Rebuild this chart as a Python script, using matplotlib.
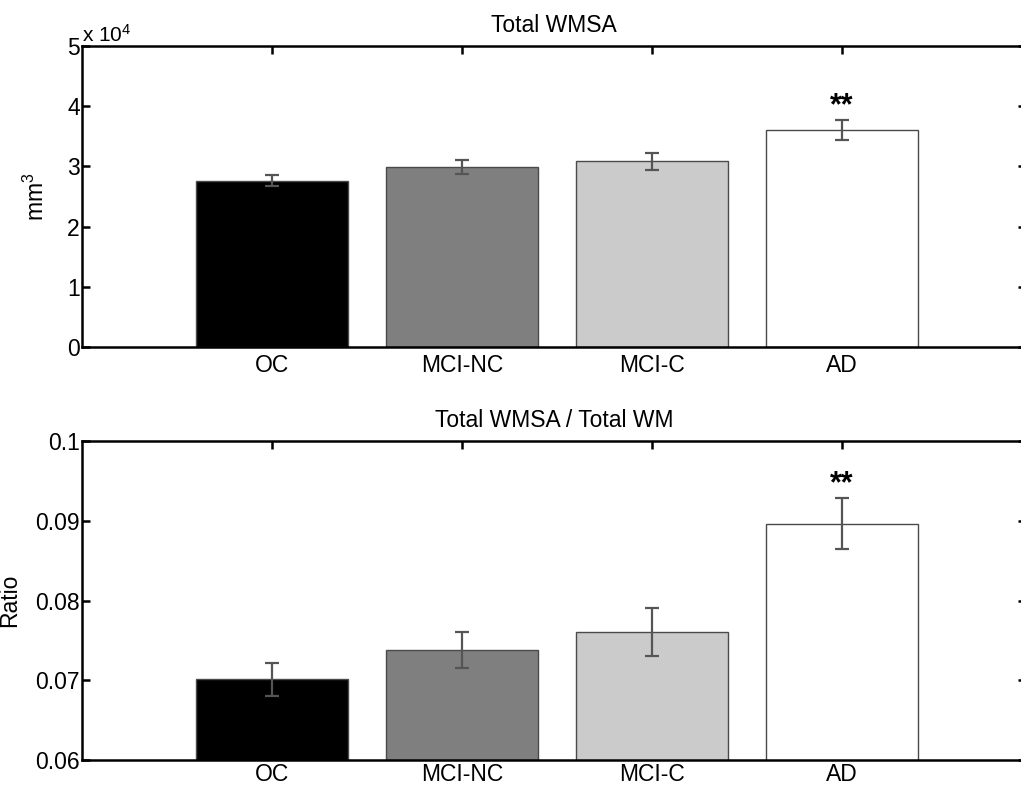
import matplotlib
matplotlib.use("Agg")
import matplotlib.pyplot as plt
from matplotlib.ticker import FuncFormatter, MultipleLocator

plt.rcParams['font.family'] = ['Liberation Sans', 'DejaVu Sans']
plt.rcParams['mathtext.fontset'] = 'custom'
plt.rcParams['mathtext.rm'] = 'Liberation Sans'
plt.rcParams['mathtext.it'] = 'Liberation Sans:italic'
plt.rcParams['mathtext.bf'] = 'Liberation Sans:bold'

# ---- data ----
groups = ['OC', 'MCI-NC', 'MCI-C', 'AD']
bar_colors = ['#000000', '#7f7f7f', '#cbcbcb', '#ffffff']
wmsa = [27600, 29950, 30850, 36000]          # mm^3
wmsa_err = [900, 1130, 1380, 1660]
ratio = [0.0701, 0.0738, 0.0760, 0.0896]
ratio_err = [0.0021, 0.0023, 0.0030, 0.0032]
sig = ['', '', '', '**']

W, H = 1021, 786
fig = plt.figure(figsize=(W / 100, H / 100), dpi=100)

x = list(range(1, len(groups) + 1))
FS = 16.5


def style_axes(ax, xpad):
    for s in ax.spines.values():
        s.set_linewidth(1.8)
    ax.tick_params(direction='in', top=True, right=True, length=6, width=1.8,
                   labelsize=FS)
    ax.tick_params(axis='y', pad=1.5)
    ax.tick_params(axis='x', pad=xpad)
    ax.set_xticks(x)
    ax.set_xticklabels(groups)
    ax.set_xlim(0.0, 4.97)


def draw(ax, vals, errs, offset_pts):
    ax.bar(x, vals, width=0.8, color=bar_colors, edgecolor='#4a4a4a', linewidth=1.0, zorder=2)
    ax.errorbar(x, vals, yerr=errs, fmt='none', ecolor='#555555', elinewidth=1.6,
                capsize=5, capthick=1.6, zorder=3)
    for xi, v, e, s in zip(x, vals, errs, sig):
        if s:
            ax.annotate(s, xy=(xi, v + e), xytext=(0, offset_pts), textcoords='offset points',
                        ha='center', va='center', fontsize=22, fontweight='bold')


# top panel
ax1 = fig.add_axes([82 / W, 1 - 347 / H, (1026 - 82) / W, 301 / H])
draw(ax1, wmsa, wmsa_err, 10)
style_axes(ax1, 5)
ax1.set_ylim(0, 50000)
ax1.yaxis.set_major_locator(MultipleLocator(10000))
ax1.yaxis.set_major_formatter(FuncFormatter(lambda v, p: f"{v / 1e4:g}"))
ax1.set_title('Total WMSA', fontsize=FS, pad=10)
ax1.set_ylabel('mm$^3$', fontsize=FS)
ax1.yaxis.set_label_coords(-0.035, 0.5)
ax1.annotate('x 10$^4$', xy=(0, 1), xycoords='axes fraction', xytext=(0, 3),
             textcoords='offset points', ha='left', va='baseline', fontsize=15)

# bottom panel
ax2 = fig.add_axes([82 / W, 1 - 760 / H, (1026 - 82) / W, 319 / H])
draw(ax2, ratio, ratio_err, 10)
style_axes(ax2, 2.5)
ax2.set_ylim(0.06, 0.1)
ax2.yaxis.set_major_locator(MultipleLocator(0.01))
ax2.yaxis.set_major_formatter(FuncFormatter(lambda v, p: f"{round(v, 4):g}"))
ax2.set_title('Total WMSA / Total WM', fontsize=FS, pad=10)
ax2.set_ylabel('Ratio', fontsize=FS)
ax2.yaxis.set_label_coords(-0.064, 0.5)

fig.savefig('out.png', dpi=100)
